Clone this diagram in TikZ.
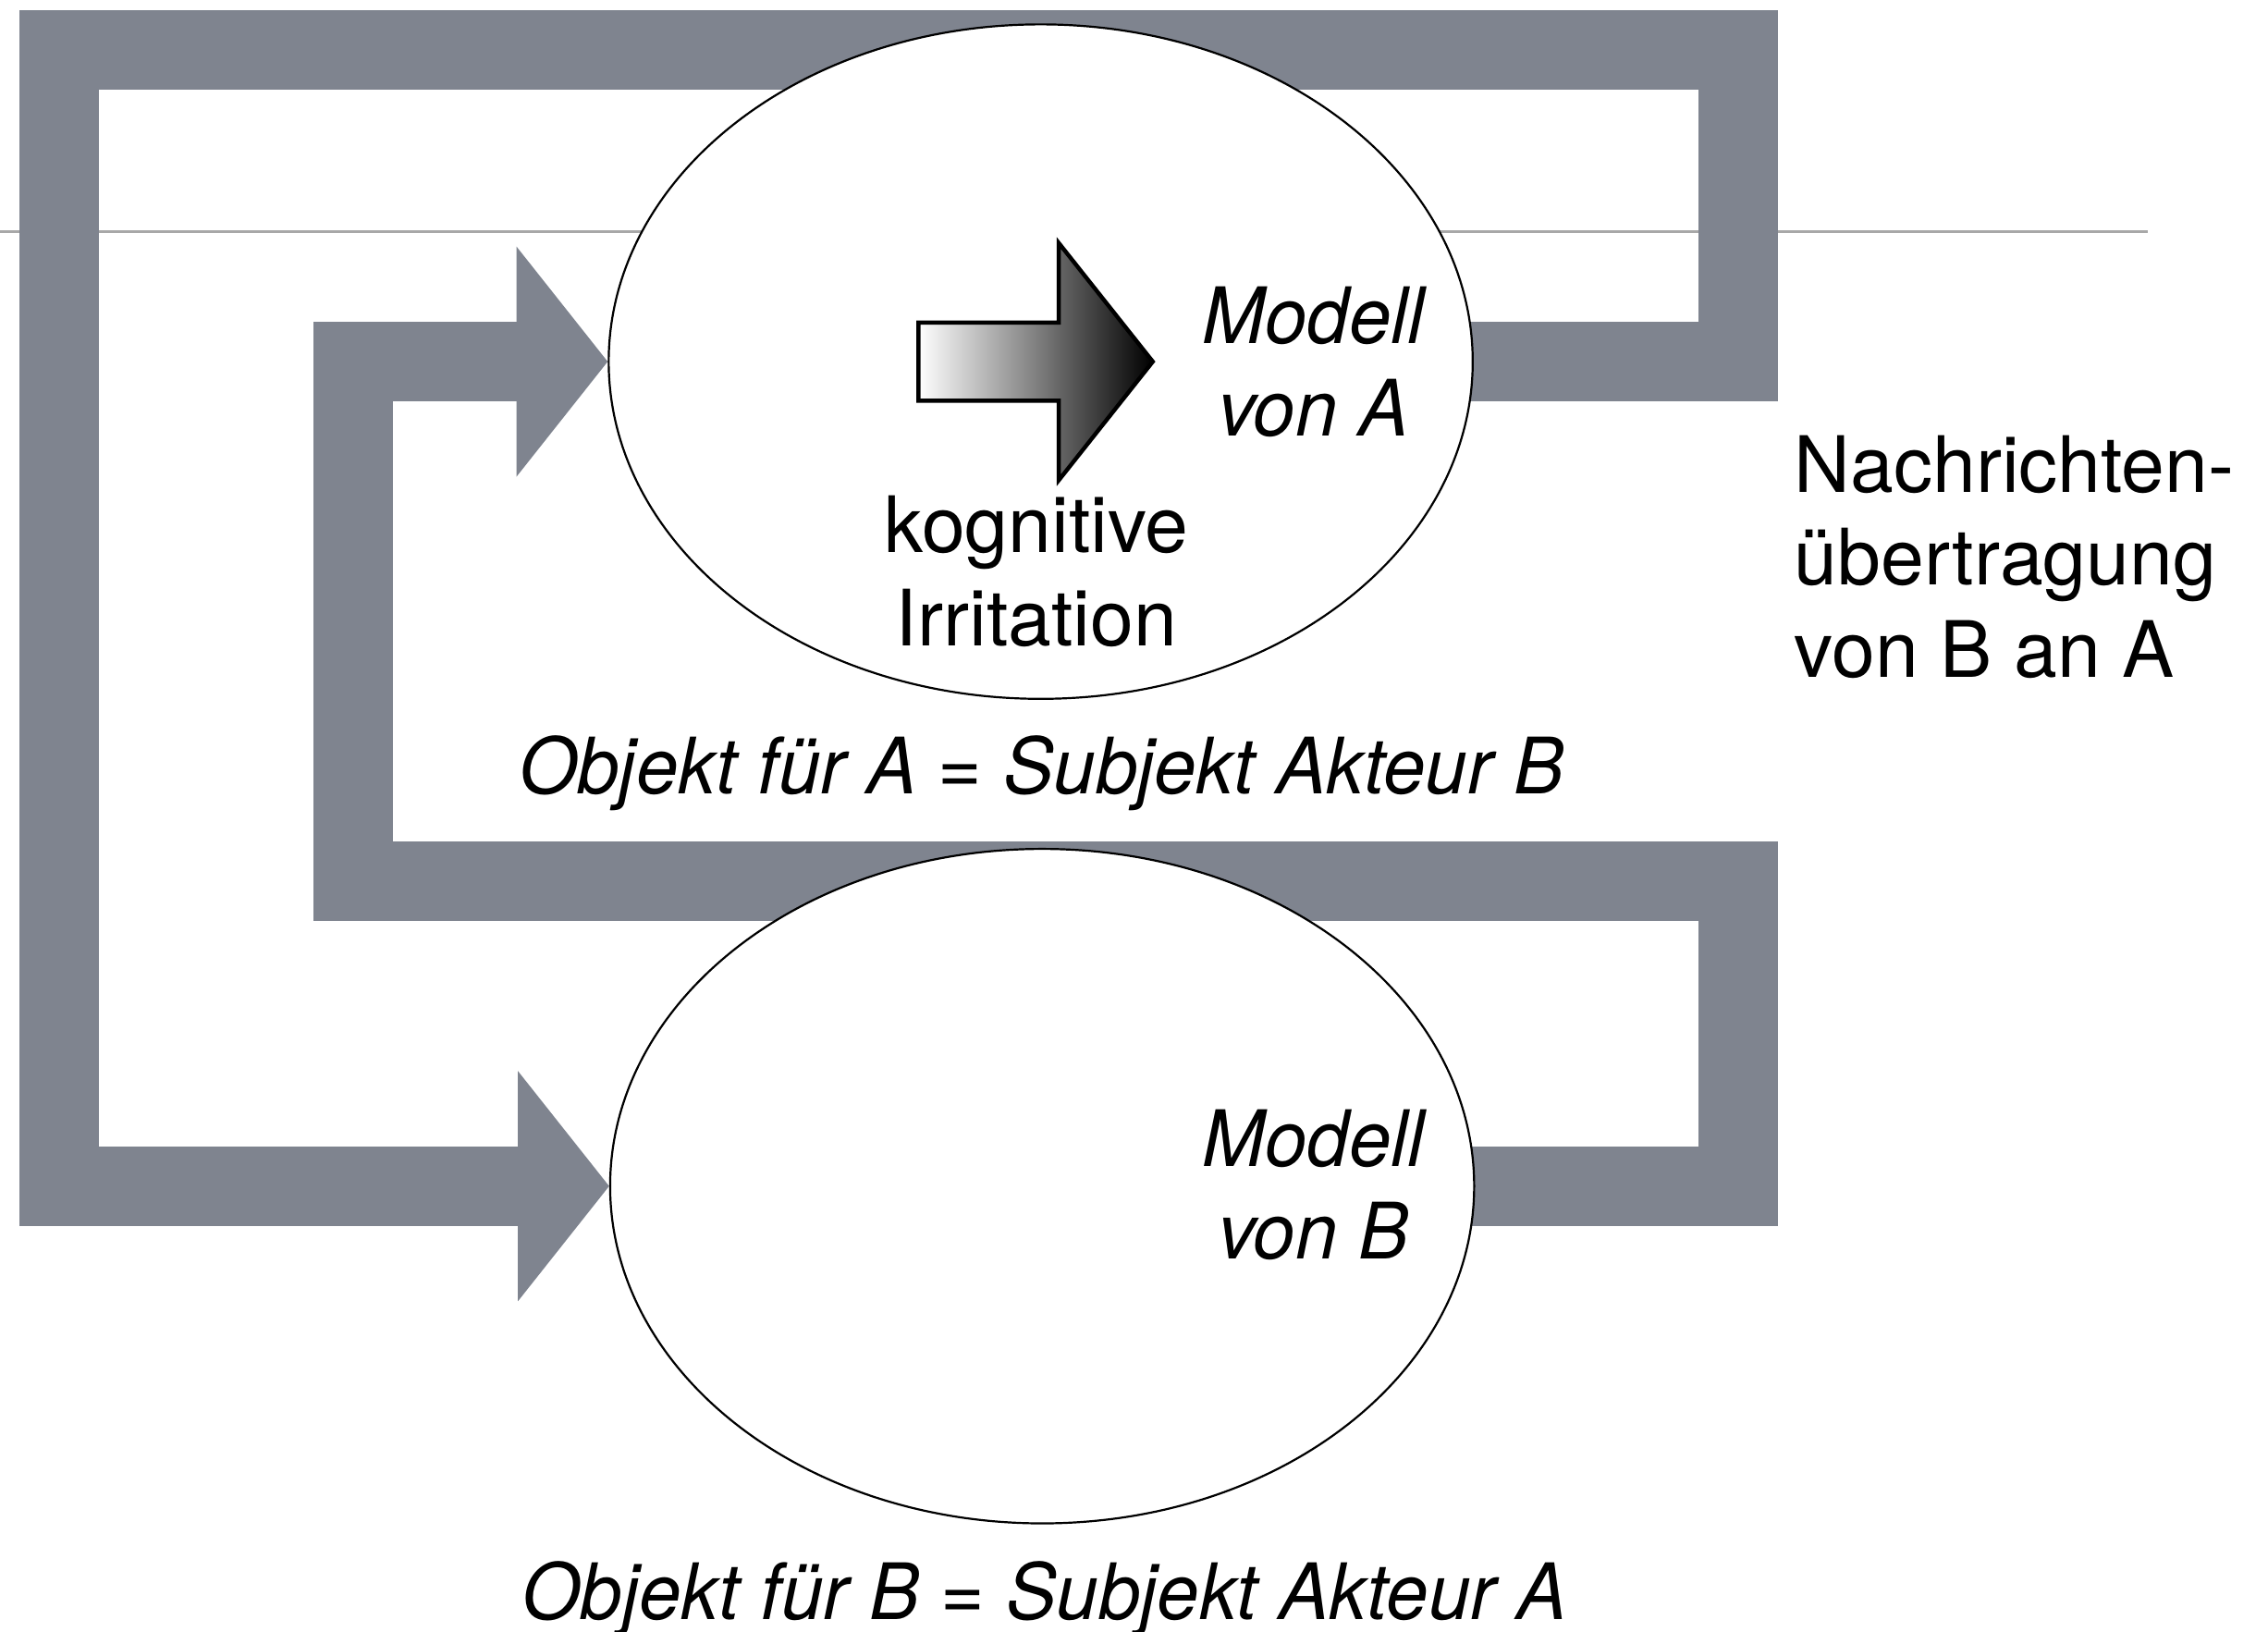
\documentclass[tikz,border=0pt]{standalone}
\usepackage{fontspec}
\setmainfont[ItalicFeatures={FakeStretch=0.97}]{TeX Gyre Heros}
\usetikzlibrary{shapes.geometric, arrows.meta, backgrounds}
\definecolor{loopgray}{RGB}{127,132,143}
\definecolor{rulegray}{RGB}{168,168,168}

\begin{document}
\begin{tikzpicture}[x=0.01cm, y=-0.01cm,
    model/.style={ellipse, draw, line width=0.4pt, fill=white, minimum width=5.97cm, minimum height=4.66cm, inner sep=0pt},
    channel/.style={draw=loopgray, line width=0.55cm, line join=miter, line cap=butt},
    into/.style={-{Triangle[length=6.3mm, width=15.9mm, line width=0pt]}},
    txt/.style={inner sep=0pt, align=center, font=\fontsize{15.3}{18.2}\selectfont},
    txtit/.style={txt, font=\fontsize{15.3}{18.2}\selectfont\itshape}]
    \useasboundingbox (0,0) rectangle (1568,1128);
    \node[model] (modelA) at (719.5,250) {};
    \node[model] (modelB) at (720.5,820) {};
    \begin{scope}[on background layer]
        \draw[rulegray, line width=0.5pt] (0,160) -- (1485,160);
        \draw[channel, into] (modelA.center) -| (1201.5,34.5) -| (41,820) -- (modelB.west);
        \draw[channel, into] (modelB.center) -| (1201.5,609) -| (244,250) -- (modelA.west);
    \end{scope}
    % kognitive Irritation
    \shadedraw[left color=white, right color=black, line width=0.8pt, line join=miter]
        (635,223) -- (732,223) -- (732,168) -- (797,250) -- (732,332) -- (732,277) -- (635,277) -- cycle;
    \node[txtit] (modelAtext) at (908,250) {Modell\\von A};
    \node[txt] (irritation) at (716.5,395) {kognitive\\Irritation};
    \node[txtit] (modelBtext) at (908,819) {Modell\\von B};
    \node[txtit, anchor=base] (objektA) at (720,548.6) {Objekt für A = Subjekt Akteur B};
    \node[txtit, anchor=base] (objektB) at (722,1119.6) {Objekt für B = Subjekt Akteur A};
    \node[txt, align=left, anchor=west] (transfer) at (1240,385) {Nachrichten-\\übertragung\\von B an A};
\end{tikzpicture}
\end{document}
